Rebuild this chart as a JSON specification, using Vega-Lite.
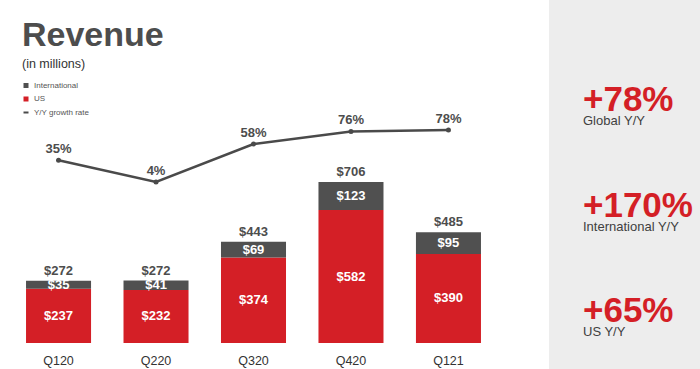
{
  "$schema": "https://vega.github.io/schema/vega-lite/v6.json",
  "background": "white",
  "padding": 0,
  "spacing": 42,
  "config": {"view": {"stroke": null}, "font": "Liberation Sans"},
  "datasets": {
    "bars": [
      {"quarter": "Q120", "segment": "US", "value": 237},
      {"quarter": "Q120", "segment": "International", "value": 35},
      {"quarter": "Q220", "segment": "US", "value": 232},
      {"quarter": "Q220", "segment": "International", "value": 41},
      {"quarter": "Q320", "segment": "US", "value": 374},
      {"quarter": "Q320", "segment": "International", "value": 69},
      {"quarter": "Q420", "segment": "US", "value": 582},
      {"quarter": "Q420", "segment": "International", "value": 123},
      {"quarter": "Q121", "segment": "US", "value": 390},
      {"quarter": "Q121", "segment": "International", "value": 95}
    ],
    "quarters": [
      {"quarter": "Q120", "total": 272, "growth": 0.35},
      {"quarter": "Q220", "total": 272, "growth": 0.04},
      {"quarter": "Q320", "total": 443, "growth": 0.58},
      {"quarter": "Q420", "total": 706, "growth": 0.76},
      {"quarter": "Q121", "total": 485, "growth": 0.78}
    ],
    "stats": [
      {"stat": "+78%", "label": "Global Y/Y"},
      {"stat": "+170%", "label": "International Y/Y"},
      {"stat": "+65%", "label": "US Y/Y"}
    ]
  },
  "hconcat": [
    {
      "width": 507,
      "height": 343,
      "title": {
        "text": "Revenue",
        "subtitle": "(in millions)",
        "anchor": "start",
        "orient": "top",
        "offset": -70,
        "dx": 22,
        "font": "Liberation Sans",
        "fontSize": 34,
        "fontWeight": "bold",
        "color": "#4d4d4d",
        "subtitleFont": "Liberation Sans",
        "subtitleFontSize": 12.5,
        "subtitleColor": "#333333",
        "subtitlePadding": 5
      },
      "layer": [
        {
          "data": {"name": "bars"},
          "transform": [
            {"stack": "value", "groupby": ["quarter"], "sort": [{"field": "segment", "order": "descending"}], "as": ["lo", "hi"]}
          ],
          "mark": {"type": "bar"},
          "encoding": {
            "x": {
              "field": "quarter", "type": "nominal", "sort": null,
              "scale": {"paddingInner": 0.333, "paddingOuter": 0.267},
              "axis": {"title": null, "domain": false, "ticks": false, "tickSize": 0, "labelPadding": 11, "labelFontSize": 12.5, "labelColor": "#333333", "labelFont": "Liberation Sans", "labelAngle": 0}
            },
            "y": {"field": "lo", "type": "quantitative", "scale": {"domain": [0, 1501], "nice": false}, "axis": null},
            "y2": {"field": "hi"},
            "color": {
              "field": "segment", "type": "nominal",
              "scale": {"domain": ["International", "US", "Y/Y growth rate"], "range": ["#505050", "#d41f26", "#4a4a4a"]},
              "legend": {
                "title": null,
                "orient": "none",
                "direction": "vertical",
                "legendX": 22,
                "legendY": 81.5,
                "padding": 0,
                "symbolType": "square",
                "symbolSize": 25,
                "labelFontSize": 8,
                "labelColor": "#555555",
                "labelFont": "Liberation Sans",
                "labelOffset": 4,
                "rowPadding": 5.5,
                "encode": {
                  "symbols": {
                    "update": {
                      "shape": {"signal": "datum.value === 'Y/Y growth rate' ? 'stroke' : 'square'"},
                      "stroke": {"signal": "datum.value === 'Y/Y growth rate' ? '#4a4a4a' : null"},
                      "strokeWidth": {"value": 2}
                    }
                  }
                }
              }
            }
          }
        },
        {
          "data": {"name": "bars"},
          "transform": [
            {"stack": "value", "groupby": ["quarter"], "sort": [{"field": "segment", "order": "descending"}], "as": ["lo", "hi"]},
            {"calculate": "(datum.lo + datum.hi) / 2", "as": "mid"}
          ],
          "mark": {"type": "text", "color": "white", "fontSize": 13, "fontWeight": "bold", "baseline": "middle", "font": "Liberation Sans"},
          "encoding": {
            "x": {"field": "quarter", "type": "nominal", "sort": null},
            "y": {"field": "mid", "type": "quantitative", "scale": {"domain": [0, 1501], "nice": false}, "axis": null},
            "text": {"field": "value", "type": "quantitative", "format": "$d"}
          }
        },
        {
          "data": {"name": "quarters"},
          "mark": {"type": "text", "color": "#4d4d4d", "fontSize": 13, "fontWeight": "bold", "baseline": "alphabetic", "dy": -6, "font": "Liberation Sans"},
          "encoding": {
            "x": {"field": "quarter", "type": "nominal", "sort": null},
            "y": {"field": "total", "type": "quantitative", "scale": {"domain": [0, 1501], "nice": false}, "axis": null},
            "text": {"field": "total", "type": "quantitative", "format": "$d"}
          }
        },
        {
          "data": {"name": "quarters"},
          "mark": {"type": "line", "color": "#4a4a4a", "strokeWidth": 2.5},
          "encoding": {
            "x": {"field": "quarter", "type": "nominal", "sort": null},
            "y": {"field": "growth", "type": "quantitative", "scale": {"domain": [-2.25, 2.629], "nice": false}, "axis": null}
          }
        },
        {
          "data": {"name": "quarters"},
          "mark": {"type": "point", "filled": true, "color": "#4a4a4a", "size": 25, "opacity": 1},
          "encoding": {
            "x": {"field": "quarter", "type": "nominal", "sort": null},
            "y": {"field": "growth", "type": "quantitative", "scale": {"domain": [-2.25, 2.629], "nice": false}, "axis": null}
          }
        },
        {
          "data": {"name": "quarters"},
          "mark": {"type": "text", "color": "#4d4d4d", "fontSize": 13, "fontWeight": "bold", "baseline": "alphabetic", "dy": -7, "font": "Liberation Sans"},
          "encoding": {
            "x": {"field": "quarter", "type": "nominal", "sort": null},
            "y": {"field": "growth", "type": "quantitative", "scale": {"domain": [-2.25, 2.629], "nice": false}, "axis": null},
            "text": {"field": "growth", "type": "quantitative", "format": ".0%"}
          }
        }
      ],
      "resolve": {"scale": {"y": "independent"}}
    },
    {
      "width": 151,
      "height": 369,
      "view": {"fill": "#ededed", "stroke": null},
      "data": {"name": "stats"},
      "encoding": {
        "y": {"field": "label", "type": "nominal", "sort": null, "scale": {"type": "point", "padding": 0.75}, "axis": null}
      },
      "layer": [
        {
          "mark": {"type": "text", "align": "left", "baseline": "alphabetic", "dx": -41.5, "dy": 32, "fontSize": 35, "fontWeight": "bold", "color": "#d41f26", "font": "Liberation Sans"},
          "encoding": {"text": {"field": "stat"}}
        },
        {
          "mark": {"type": "text", "align": "left", "baseline": "alphabetic", "dx": -41.5, "dy": 46, "fontSize": 13, "color": "#404040", "font": "Liberation Sans"},
          "encoding": {"text": {"field": "label"}}
        }
      ]
    }
  ]
}
